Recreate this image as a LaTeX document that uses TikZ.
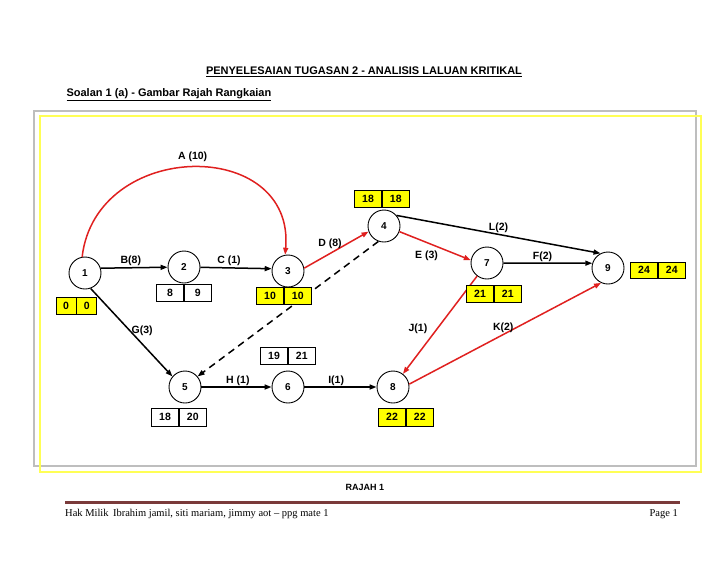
\documentclass[tikz,border=0pt]{standalone}
\usepackage{fontspec}
\setmainfont{Liberation Sans}
\newfontfamily\footfont{Liberation Serif}
\usetikzlibrary{positioning, arrows.meta}
\definecolor{cred}{HTML}{E0201F}
\definecolor{cyellow}{HTML}{FFFF00}
\definecolor{cframe}{HTML}{FFFF55}
\definecolor{cgray}{HTML}{BEBEBE}
\definecolor{cfoot}{HTML}{7A3A3A}

\begin{document}
\begin{tikzpicture}[x=1pt, y=-1pt,
	% Style for the event circles
	event/.style={
		draw,
		circle,
		minimum size=32pt,
		inner sep=0pt,
		line width=0.9pt,
		font=\fontsize{10}{11}\selectfont\bfseries
	},
	% Style for the time boxes
	timebox/.style={
		draw,
		rectangle,
		fill=white,
		minimum width=27pt,
		minimum height=17pt,
		inner sep=0pt,
		line width=0.8pt,
		font=\fontsize{10.5}{11}\selectfont\bfseries
	},
	critbox/.style={
		timebox,
		fill=cyellow
	},
	% Style for the activities
	activity/.style={
		-{Triangle[length=7pt, width=5pt]},
		line width=1.5pt
	},
	critical/.style={
		activity,
		draw=cred
	},
	dummy/.style={
		activity,
		dash pattern=on 7pt off 5pt
	},
	% Style for the activity labels
	elabel/.style={
		font=\fontsize{10.5}{11}\selectfont\bfseries,
		inner sep=1pt
	}
	]
	
	\fill[white] (0,0) rectangle (728,563);
	\useasboundingbox (0,0) rectangle (728,563);
	
	% --- Headings ---
	\node[font=\fontsize{11}{12}\selectfont\bfseries] (title) at (364,72)
	{\underline{PENYELESAIAN TUGASAN 2 - ANALISIS LALUAN KRITIKAL}};
	\node[anchor=west, font=\fontsize{11}{12}\selectfont\bfseries] (subtitle) at (63,95)
	{\underline{Soalan 1 (a) - Gambar Rajah Rangkaian}};
	
	% --- Frames ---
	\draw[cgray, line width=2pt] (34,111) rectangle (696,466);
	\draw[cframe, line width=2.5pt] (40,116) rectangle (701,472);
	
	% --- Events ---
	\node[event] (n1) at (85,273) {1};
	\node[event] (n2) at (184,267) {2};
	\node[event] (n3) at (288,271) {3};
	\node[event] (n4) at (384,226) {4};
	\node[event] (n5) at (185,387) {5};
	\node[event] (n6) at (288,387) {6};
	\node[event] (n7) at (487,263) {7};
	\node[event] (n8) at (393,387) {8};
	\node[event] (n9) at (608,268) {9};
	
	% --- Activities ---
	\draw[critical] (n1.100) .. controls +(14,-118) and +(10,-118) .. (n3.100)
	node[elabel, pos=0.5, above=4pt] {A (10)};
	\draw[activity] (n1.17) -- node[elabel, pos=0.45, above] {B(8)} (n2);
	\draw[activity] (n2) -- node[elabel, pos=0.4, above] {C (1)} (n3.172);
	\draw[critical] (n3.10) -- node[elabel, pos=0.4, above=3pt] {D (8)} (n4.200);
	\draw[critical] (n4.340) -- node[elabel, pos=0.38, below=7pt] {E (3)} (n7.170);
	\draw[activity] (n4.40) -- node[elabel, pos=0.5, above] {L(2)} (n9.117);
	\draw[activity] (n7) -- node[elabel, pos=0.44, above] {F(2)} (n9.163);
	\draw[activity] (n1.-70) -- node[elabel, pos=0.48, right=0pt] {G(3)} (n5.140);
	\draw[dummy] (n4.250) -- (n5.40);
	\draw[activity] (n5) -- node[elabel, pos=0.52, above] {H (1)} (n6);
	\draw[activity] (n6) -- node[elabel, pos=0.44, above] {I(1)} (n8);
	\draw[critical] (n7) -- node[elabel, pos=0.54, left=8pt] {J(1)} (n8);
	\draw[critical] (n8.10) -- node[elabel, pos=0.49, above] {K(2)} (n9.245);
	
	% --- Time boxes ---
	\node[critbox, minimum width=20pt] (e1) at (66,306) {0};
	\node[critbox, minimum width=20pt, right=0 of e1] (l1) {0};
	\node[timebox] (e2) at (170,293) {8};
	\node[timebox, right=0 of e2] (l2) {9};
	\node[critbox] (e3) at (270,296) {10};
	\node[critbox, right=0 of e3] (l3) {10};
	\node[critbox] (e4) at (368,199) {18};
	\node[critbox, right=0 of e4] (l4) {18};
	\node[timebox, minimum height=18pt] (e5) at (165,417) {18};
	\node[timebox, minimum height=18pt, right=0 of e5] (l5) {20};
	\node[timebox] (e6) at (274,356) {19};
	\node[timebox, right=0 of e6] (l6) {21};
	\node[critbox] (e7) at (480,294) {21};
	\node[critbox, right=0 of e7] (l7) {21};
	\node[critbox, minimum height=18pt] (e8) at (392,417) {22};
	\node[critbox, minimum height=18pt, right=0 of e8] (l8) {22};
	\node[critbox, minimum height=16pt] (e9) at (644,270) {24};
	\node[critbox, minimum height=16pt, right=0 of e9] (l9) {24};
	
	% --- Caption and footer ---
	\node[font=\fontsize{9}{10}\selectfont\bfseries] (caption) at (365,487) {RAJAH 1};
	\draw[cfoot, line width=3pt] (65,502) -- (680,502);
	\node[anchor=west, inner sep=0pt, font=\footfont\fontsize{10.5}{11}\selectfont] (footer) at (65,514)
	{Hak Milik\, Ibrahim jamil, siti mariam, jimmy aot – ppg mate 1};
	\node[anchor=east, inner sep=0pt, font=\footfont\fontsize{10.5}{11}\selectfont] (page) at (678,514) {Page 1};
	
\end{tikzpicture}
\end{document}
